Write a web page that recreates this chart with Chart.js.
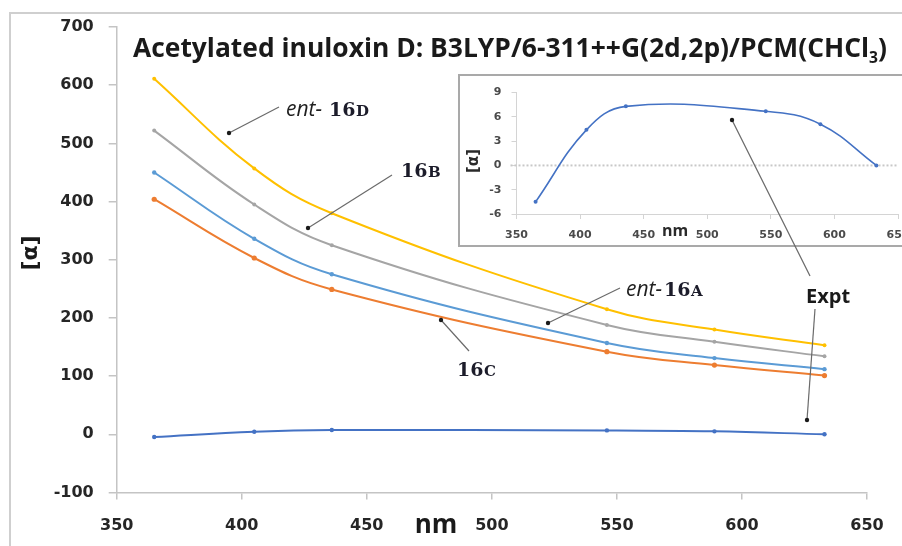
<!DOCTYPE html>
<html>
<head>
<meta charset="utf-8">
<script src="https://cdn.jsdelivr.net/npm/chart.js@4/dist/chart.umd.min.js"></script>
<style>
  html, body { margin:0; padding:0; background:#fff; width:902px; height:546px; overflow:hidden; }
  #wrap { position:relative; width:902px; height:546px; overflow:hidden; }
  #main { position:absolute; left:0; top:0; }
  #insetBox { position:absolute; left:458px; top:74px; width:470px; height:169px; border:2px solid #a9a9a9; background:#fff; }
  #inset { position:absolute; left:0; top:0; }
  #overlay { position:absolute; left:0; top:0; pointer-events:none; }
</style>
</head>
<body>
<div id="wrap">
  <canvas id="main" width="902" height="546"></canvas>
  <div id="insetBox"><canvas id="inset" width="470" height="169"></canvas></div>
  <canvas id="overlay" width="902" height="546"></canvas>
</div>
<script>
// ---- data ----
const wavelengths = [365, 405, 436, 546, 589, 633];
const ent16D = [611, 457, 380, 215, 180, 153];
const b16B   = [522, 395, 325, 188, 159, 134];
const ent16A = [450, 336, 275, 157, 131, 112];
const c16C   = [404, 303, 249, 142, 119, 101];
const expt   = [-4.5, 4.4, 7.3, 6.7, 5.1, 0.0];
const mainXTicks = [350, 400, 450, 500, 550, 600, 650];
const mainYTicks = [-100, 0, 100, 200, 300, 400, 500, 600, 700];
const insetYTicks = [-6, -3, 0, 3, 6, 9];

const titleText = 'Acetylated inuloxin D: B3LYP/6-311++G(2d,2p)/PCM(CHCl';
const titleSub = '3';
const titleEnd = ')';

function pts(vals){ return wavelengths.map((x,i)=>({x:x, y:vals[i]})); }
function ds(label, vals, color, r){
  return { label, data: pts(vals), borderColor: color, backgroundColor: color,
    borderWidth: 2, pointRadius: r, pointHoverRadius: r, pointBorderWidth: 0, tension: 0.4 };
}

const tickFont = { family: '"DejaVu Sans"', size: 16, weight: 'bold' };
const axisGray = '#c4c4c4';

const mainPlugin = {
  id: 'mainDeco',
  beforeDraw(chart){
    const c = chart.ctx;
    c.save();
    c.fillStyle = '#fff';
    c.fillRect(0,0,chart.width,chart.height);
    c.strokeStyle = '#cfcfcf';
    c.lineWidth = 2;
    c.beginPath();
    c.moveTo(10, chart.height);
    c.lineTo(10, 13);
    c.lineTo(chart.width, 13);
    c.stroke();
    c.restore();
  },
  afterDraw(chart){
    const c = chart.ctx;
    c.save();
    // title
    const F = 'bold 27px "Open Sans"';
    const SF = 'bold 16px "Open Sans"';
    c.font = F; const w1 = c.measureText(titleText).width; const w3 = c.measureText(titleEnd).width;
    c.font = SF; const w2 = c.measureText(titleSub).width;
    const sx = 754 / (w1 + w2 + w3);
    c.translate(133, 57);
    c.scale(sx, 1);
    c.fillStyle = '#1a1a1a';
    c.textBaseline = 'alphabetic';
    c.textAlign = 'left';
    c.font = F; c.fillText(titleText, 0, 0);
    c.font = SF; c.fillText(titleSub, w1, 6);
    c.font = F; c.fillText(titleEnd, w1 + w2, 0);
    c.restore();

    // axis titles
    c.save();
    c.fillStyle = '#1a1a1a';
    c.font = 'bold 26px "Open Sans"';
    c.textAlign = 'center';
    c.textBaseline = 'alphabetic';
    c.fillText('nm', 436, 533);
    c.translate(37, 253);
    c.rotate(-Math.PI/2);
    c.font = 'bold 22px "DejaVu Sans"';
    c.textBaseline = 'alphabetic';
    c.fillText('[α]', 0, 0);
    c.restore();
  }
};

const mainChart = new Chart(document.getElementById('main'), {
  type: 'line',
  data: { datasets: [
    ds('ent-16D', ent16D, '#FFC000', 2),
    ds('16B', b16B, '#A5A5A5', 2),
    ds('ent-16A', ent16A, '#5B9BD5', 2.2),
    ds('16C', c16C, '#ED7D31', 2.6),
    ds('Expt', expt, '#4472C4', 2.2)
  ]},
  options: {
    responsive: false, animation: false, devicePixelRatio: 1,
    layout: { padding: { left: 0, right: 35, top: 27, bottom: 0 } },
    plugins: { legend: { display: false }, tooltip: { enabled: false } },
    scales: {
      x: { type: 'linear', min: 350, max: 650,
        afterBuildTicks(s){ s.ticks = mainXTicks.map(v=>({value:v})); },
        ticks: { font: tickFont, color: '#262626', padding: 17, maxRotation: 0 },
        grid: { drawOnChartArea: false, tickLength: 7, color: axisGray, lineWidth: 1.5 },
        border: { color: axisGray, width: 1.5 },
        afterFit(s){ s.height = 53.5; } },
      y: { type: 'linear', min: -100, max: 700,
        afterBuildTicks(s){ s.ticks = mainYTicks.map(v=>({value:v})); },
        ticks: { font: tickFont, color: '#262626', padding: 15 },
        grid: { drawOnChartArea: false, tickLength: 8, color: axisGray, lineWidth: 1.5 },
        border: { color: axisGray, width: 1.5 },
        afterFit(s){ s.width = 116.7; } }
    }
  },
  plugins: [mainPlugin]
});

// ---- inset ----
const insetFont = { family: '"DejaVu Sans"', size: 11, weight: 'bold' };
const insetPlugin = {
  id: 'insetDeco',
  beforeDatasetsDraw(chart){
    const c = chart.ctx, y = chart.scales.y, a = chart.chartArea;
    const y0 = y.getPixelForValue(0);
    c.save();
    c.strokeStyle = '#c8c8c8';
    c.lineWidth = 2;
    c.setLineDash([2, 2]);
    c.beginPath();
    c.moveTo(a.left - 6, y0);
    c.lineTo(a.right, y0);
    c.stroke();
    c.restore();
  },
  afterDraw(chart){
    const c = chart.ctx;
    c.save();
    c.fillStyle = '#2a2a2a';
    c.font = 'bold 16px "Open Sans"';
    c.textAlign = 'center';
    c.textBaseline = 'alphabetic';
    c.fillText('nm', 215, 160);
    c.translate(18, 85);
    c.rotate(-Math.PI/2);
    c.font = 'bold 15px "DejaVu Sans"';
    c.fillText('[α]', 0, 0);
    c.restore();
  }
};

const insetChart = new Chart(document.getElementById('inset'), {
  type: 'line',
  data: { datasets: [ { label: 'Expt', data: pts(expt), borderColor: '#4472C4', backgroundColor: '#4472C4',
    borderWidth: 1.6, pointRadius: 2, pointBorderWidth: 0, tension: 0.4 } ] },
  options: {
    responsive: false, animation: false, devicePixelRatio: 1,
    layout: { padding: { left: 0, right: 32, top: 9, bottom: 0 } },
    plugins: { legend: { display: false }, tooltip: { enabled: false } },
    scales: {
      x: { type: 'linear', min: 350, max: 650,
        afterBuildTicks(s){ s.ticks = mainXTicks.map(v=>({value:v})); },
        ticks: { font: insetFont, color: '#4a4a4a', padding: 10, maxRotation: 0 },
        grid: { drawOnChartArea: false, tickLength: 5, color: '#d4d4d4' },
        border: { color: '#d4d4d4', width: 1 },
        afterFit(s){ s.height = 31; } },
      y: { type: 'linear', min: -6, max: 9,
        afterBuildTicks(s){ s.ticks = insetYTicks.map(v=>({value:v})); },
        ticks: { font: insetFont, color: '#4a4a4a', padding: 10 },
        grid: { drawOnChartArea: false, tickLength: 5, color: '#d4d4d4' },
        border: { color: '#d4d4d4', width: 1 },
        afterFit(s){ s.width = 56.5; } }
    }
  },
  plugins: [insetPlugin]
});

// ---- annotations (labels with arrows) ----
const ov = document.getElementById('overlay').getContext('2d');
function arrow(x1, y1, x2, y2){
  ov.save();
  ov.strokeStyle = '#6a6a6a';
  ov.lineWidth = 1.2;
  ov.beginPath(); ov.moveTo(x1, y1); ov.lineTo(x2, y2); ov.stroke();
  ov.fillStyle = '#1a1a1a';
  ov.beginPath(); ov.arc(x2, y2, 2.2, 0, Math.PI*2); ov.fill();
  ov.restore();
}
function compound(x, xNum, base, prefix, num, letter){
  ov.save();
  ov.textBaseline = 'alphabetic';
  ov.textAlign = 'left';
  if (prefix){
    ov.fillStyle = '#1e1e1e';
    ov.font = 'italic 21px "Open Sans"';
    ov.fillText(prefix, x, base);
  }
  ov.fillStyle = '#1c1c2a';
  ov.font = 'bold 19px "DejaVu Serif"';
  ov.fillText(num, xNum, base);
  const w = ov.measureText(num).width;
  ov.font = 'bold 15px "DejaVu Serif"';
  ov.fillText(letter, xNum + w + 0.5, base);
  ov.restore();
}
arrow(279, 107, 229, 133);
compound(286, 329, 116, 'ent-', '16', 'D');
arrow(392, 175, 308, 228);
compound(0, 401, 177, '', '16', 'B');
arrow(620, 288, 548, 323);
compound(626, 664, 296, 'ent-', '16', 'A');
arrow(469, 351, 441, 320);
compound(0, 457, 376, '', '16', 'C');
arrow(810, 276, 732, 120);
arrow(815, 309, 807, 420);
ov.save();
ov.fillStyle = '#1a1a1a';
ov.font = 'bold 20px "Open Sans"';
ov.textBaseline = 'alphabetic';
ov.fillText('Expt', 806, 303);
ov.restore();
</script>
</body>
</html>
